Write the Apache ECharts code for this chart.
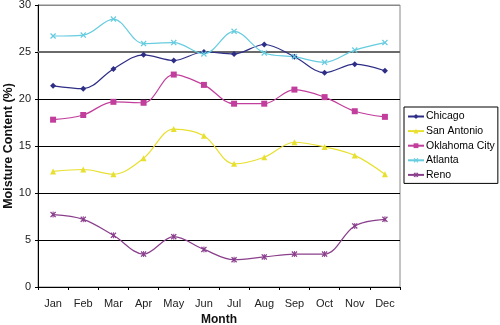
<!DOCTYPE html>
<html><head><meta charset="utf-8">
<script src="https://cdn.jsdelivr.net/npm/echarts@6/dist/echarts.min.js"></script>
<style>html,body{margin:0;padding:0;background:#fff}#c{width:500px;height:325px}</style>
</head><body><div id="c"></div>
<script>
const months = ['Jan','Feb','Mar','Apr','May','Jun','Jul','Aug','Sep','Oct','Nov','Dec'];
const chicago     = [21.4, 21.1, 23.2, 24.7, 24.1, 25.0, 24.8, 25.8, 24.5, 22.8, 23.7, 23.0];
const sanAntonio  = [12.3, 12.5, 12.0, 13.7, 16.8, 16.1, 13.1, 13.8, 15.4, 14.9, 14.0, 12.0];
const oklahoma    = [17.8, 18.3, 19.7, 19.6, 22.6, 21.5, 19.5, 19.5, 21.0, 20.2, 18.7, 18.1];
const atlanta     = [26.7, 26.8, 28.5, 25.9, 26.0, 24.8, 27.2, 24.9, 24.5, 23.9, 25.2, 26.0];
const reno        = [7.7, 7.2, 5.5, 3.5, 5.35, 4.0, 2.9, 3.2, 3.5, 3.5, 6.5, 7.2];
const yTicks = [0, 5, 10, 15, 20, 25, 30];
const heavyGridValue = 25;

const X = 'path://M0,1.5L1.5,0L5,3.5L8.5,0L10,1.5L6.5,5L10,8.5L8.5,10L5,6.5L1.5,10L0,8.5L3.5,5Z';
const STAR = 'path://M0,1.5L1.5,0L4.2,2.7L4.2,0L5.8,0L5.8,2.7L8.5,0L10,1.5L6.5,5L10,8.5L8.5,10L5.8,7.3L5.8,10L4.2,10L4.2,7.3L1.5,10L0,8.5L3.5,5Z';
const font = 'Liberation Sans, Arial, sans-serif';

function mk(name, data, color, symbol, size, z) {
  return {
    name, type: 'line', data, smooth: 0.35,
    symbol, symbolSize: size, z: z || 2,
    lineStyle: { color, width: 1.2 },
    itemStyle: { color },
    emphasis: { disabled: true },
    animation: false
  };
}

const chart = echarts.init(document.getElementById('c'));
chart.setOption({
  animation: false,
  textStyle: { fontFamily: font },
  grid: { left: 38, right: 100, top: 5, bottom: 38, containLabel: false, outerBoundsMode: 'none',
          show: true, borderColor: '#888', borderWidth: 1, backgroundColor: 'transparent' },
  legend: {
    orient: 'vertical', left: 404, top: 107,
    padding: [4, 3, 3, 3], itemGap: 3.6, itemWidth: 16, itemHeight: 6,
    borderColor: '#000', borderWidth: 1, backgroundColor: '#fff',
    textStyle: { fontFamily: font, fontSize: 10.5, color: '#000', padding: [0,0,0,-3] },
    data: ['Chicago', 'San Antonio', 'Oklahoma City', 'Atlanta', 'Reno']
  },
  xAxis: {
    type: 'category', data: months, boundaryGap: true,
    name: 'Month', nameLocation: 'middle', nameGap: 27,
    nameTextStyle: { fontFamily: font, fontSize: 12, fontWeight: 'bold', color: '#111' },
    axisLine: { lineStyle: { color: '#000', width: 1 } },
    axisTick: { show: true, length: 3, inside: false, alignWithLabel: false, lineStyle: { color: '#000' } },
    axisLabel: { fontFamily: font, fontSize: 11, color: '#222', margin: 11 },
    splitLine: { show: false }
  },
  yAxis: {
    type: 'value', min: yTicks[0], max: yTicks[yTicks.length - 1], interval: 5,
    name: 'Moisture Content (%)', nameLocation: 'middle', nameGap: 23, nameMoveOverlap: false,
    nameTextStyle: { fontFamily: font, fontSize: 12.5, fontWeight: 'bold', color: '#111' },
    axisLine: { show: true, lineStyle: { color: '#000', width: 1 } },
    axisTick: { show: true, length: 3, lineStyle: { color: '#000' } },
    axisLabel: { fontFamily: font, fontSize: 11, color: '#222', margin: 7 },
    splitLine: { show: true, lineStyle: { color: ['#000', '#000', '#000', '#000', '#000', '#666', '#888'], width: 1 } }
  },
  series: [
    Object.assign(mk('Chicago', chicago, '#2E2E86', 'diamond', 6), {
      markLine: {
        silent: true, symbol: 'none', label: { show: false }, z: 1,
        lineStyle: { color: '#6a6a6a', width: 2, type: 'solid' },
        data: [{ yAxis: heavyGridValue }]
      }
    }),
    mk('San Antonio', sanAntonio, '#E8E030', 'triangle', 6),
    mk('Oklahoma City', oklahoma, '#C23E9C', 'rect', 6),
    mk('Atlanta', atlanta, '#66CCDF', X, 6),
    mk('Reno', reno, '#8A3F8C', STAR, 6)
  ]
});
</script></body></html>
